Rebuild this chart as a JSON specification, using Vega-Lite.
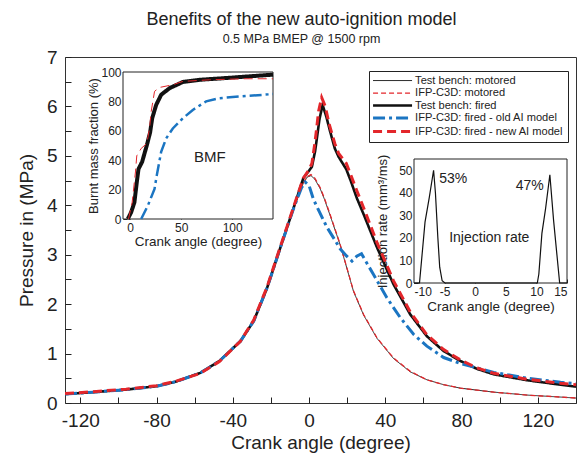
{
  "$schema": "https://vega.github.io/schema/vega-lite/v6.json",
  "width": 511,
  "height": 346,
  "autosize": {"type": "none"},
  "padding": {"left": 65, "top": 57, "right": 4, "bottom": 61},
  "background": "white",
  "title": {
    "text": "Benefits of the new auto-ignition model",
    "subtitle": "0.5 MPa BMEP @ 1500 rpm",
    "anchor": "middle",
    "dx": -19,
    "offset": 3,
    "fontSize": 18,
    "fontWeight": "normal",
    "font": "Liberation Sans",
    "color": "#222",
    "subtitleFont": "Liberation Sans",
    "subtitleFontSize": 12.5,
    "subtitleColor": "#222",
    "subtitlePadding": 4
  },
  "config": {
    "view": {"stroke": "#333", "strokeWidth": 1},
    "axis": {
      "labelFont": "Liberation Sans",
      "titleFont": "Liberation Sans",
      "labelColor": "#222",
      "titleColor": "#222",
      "titleFontWeight": "normal",
      "grid": false,
      "domain": false,
      "tickColor": "#222"
    }
  },
  "datasets": {
    "main": [
      {"s": "Test bench: motored", "x": -128, "y": 0.18}, {"s": "Test bench: motored", "x": -113, "y": 0.22}, {"s": "Test bench: motored", "x": -96, "y": 0.27}, {"s": "Test bench: motored", "x": -80, "y": 0.34}, {"s": "Test bench: motored", "x": -70, "y": 0.43}, {"s": "Test bench: motored", "x": -57, "y": 0.61}, {"s": "Test bench: motored", "x": -47, "y": 0.85}, {"s": "Test bench: motored", "x": -36, "y": 1.25}, {"s": "Test bench: motored", "x": -29, "y": 1.66}, {"s": "Test bench: motored", "x": -22, "y": 2.33}, {"s": "Test bench: motored", "x": -15, "y": 3.15}, {"s": "Test bench: motored", "x": -8, "y": 3.96}, {"s": "Test bench: motored", "x": -3, "y": 4.45}, {"s": "Test bench: motored", "x": -1, "y": 4.57}, {"s": "Test bench: motored", "x": 1, "y": 4.6}, {"s": "Test bench: motored", "x": 3, "y": 4.53}, {"s": "Test bench: motored", "x": 5.8, "y": 4.34}, {"s": "Test bench: motored", "x": 8, "y": 4.13}, {"s": "Test bench: motored", "x": 11, "y": 3.8}, {"s": "Test bench: motored", "x": 16.3, "y": 3.2}, {"s": "Test bench: motored", "x": 19.8, "y": 2.73}, {"s": "Test bench: motored", "x": 23.3, "y": 2.26}, {"s": "Test bench: motored", "x": 28.6, "y": 1.78}, {"s": "Test bench: motored", "x": 35.6, "y": 1.31}, {"s": "Test bench: motored", "x": 44.3, "y": 0.9}, {"s": "Test bench: motored", "x": 53.1, "y": 0.63}, {"s": "Test bench: motored", "x": 61.8, "y": 0.47}, {"s": "Test bench: motored", "x": 70.6, "y": 0.37}, {"s": "Test bench: motored", "x": 79.4, "y": 0.3}, {"s": "Test bench: motored", "x": 96.9, "y": 0.22}, {"s": "Test bench: motored", "x": 114.4, "y": 0.16}, {"s": "Test bench: motored", "x": 131.9, "y": 0.12}, {"s": "Test bench: motored", "x": 140, "y": 0.1},
      {"s": "IFP-C3D: motored", "x": -128, "y": 0.18}, {"s": "IFP-C3D: motored", "x": -113, "y": 0.22}, {"s": "IFP-C3D: motored", "x": -96, "y": 0.27}, {"s": "IFP-C3D: motored", "x": -80, "y": 0.34}, {"s": "IFP-C3D: motored", "x": -70, "y": 0.43}, {"s": "IFP-C3D: motored", "x": -57, "y": 0.61}, {"s": "IFP-C3D: motored", "x": -47, "y": 0.85}, {"s": "IFP-C3D: motored", "x": -36, "y": 1.25}, {"s": "IFP-C3D: motored", "x": -29, "y": 1.66}, {"s": "IFP-C3D: motored", "x": -22, "y": 2.33}, {"s": "IFP-C3D: motored", "x": -15, "y": 3.15}, {"s": "IFP-C3D: motored", "x": -8, "y": 3.96}, {"s": "IFP-C3D: motored", "x": -3, "y": 4.45}, {"s": "IFP-C3D: motored", "x": -1, "y": 4.58}, {"s": "IFP-C3D: motored", "x": 1, "y": 4.62}, {"s": "IFP-C3D: motored", "x": 3, "y": 4.55}, {"s": "IFP-C3D: motored", "x": 5.8, "y": 4.36}, {"s": "IFP-C3D: motored", "x": 8, "y": 4.15}, {"s": "IFP-C3D: motored", "x": 11, "y": 3.82}, {"s": "IFP-C3D: motored", "x": 16.3, "y": 3.21}, {"s": "IFP-C3D: motored", "x": 19.8, "y": 2.74}, {"s": "IFP-C3D: motored", "x": 23.3, "y": 2.27}, {"s": "IFP-C3D: motored", "x": 28.6, "y": 1.79}, {"s": "IFP-C3D: motored", "x": 35.6, "y": 1.32}, {"s": "IFP-C3D: motored", "x": 44.3, "y": 0.91}, {"s": "IFP-C3D: motored", "x": 53.1, "y": 0.64}, {"s": "IFP-C3D: motored", "x": 61.8, "y": 0.47}, {"s": "IFP-C3D: motored", "x": 70.6, "y": 0.37}, {"s": "IFP-C3D: motored", "x": 79.4, "y": 0.3}, {"s": "IFP-C3D: motored", "x": 96.9, "y": 0.22}, {"s": "IFP-C3D: motored", "x": 114.4, "y": 0.16}, {"s": "IFP-C3D: motored", "x": 131.9, "y": 0.12}, {"s": "IFP-C3D: motored", "x": 140, "y": 0.1},
      {"s": "Test bench: fired", "x": -128, "y": 0.18}, {"s": "Test bench: fired", "x": -113, "y": 0.22}, {"s": "Test bench: fired", "x": -96, "y": 0.27}, {"s": "Test bench: fired", "x": -80, "y": 0.34}, {"s": "Test bench: fired", "x": -70, "y": 0.43}, {"s": "Test bench: fired", "x": -57, "y": 0.61}, {"s": "Test bench: fired", "x": -47, "y": 0.85}, {"s": "Test bench: fired", "x": -36, "y": 1.25}, {"s": "Test bench: fired", "x": -29, "y": 1.66}, {"s": "Test bench: fired", "x": -22, "y": 2.33}, {"s": "Test bench: fired", "x": -15, "y": 3.15}, {"s": "Test bench: fired", "x": -8, "y": 3.96}, {"s": "Test bench: fired", "x": -3, "y": 4.55}, {"s": "Test bench: fired", "x": 0, "y": 4.7}, {"s": "Test bench: fired", "x": 1.5, "y": 4.78}, {"s": "Test bench: fired", "x": 3.2, "y": 5.1}, {"s": "Test bench: fired", "x": 5.5, "y": 5.75}, {"s": "Test bench: fired", "x": 7.1, "y": 6.03}, {"s": "Test bench: fired", "x": 9, "y": 5.8}, {"s": "Test bench: fired", "x": 11, "y": 5.5}, {"s": "Test bench: fired", "x": 13.5, "y": 5.15}, {"s": "Test bench: fired", "x": 15.5, "y": 4.98}, {"s": "Test bench: fired", "x": 19.5, "y": 4.73}, {"s": "Test bench: fired", "x": 22, "y": 4.48}, {"s": "Test bench: fired", "x": 25, "y": 4.15}, {"s": "Test bench: fired", "x": 28.6, "y": 3.82}, {"s": "Test bench: fired", "x": 35.6, "y": 3.15}, {"s": "Test bench: fired", "x": 44.3, "y": 2.4}, {"s": "Test bench: fired", "x": 53.1, "y": 1.79}, {"s": "Test bench: fired", "x": 61.8, "y": 1.35}, {"s": "Test bench: fired", "x": 70.6, "y": 1.05}, {"s": "Test bench: fired", "x": 79.4, "y": 0.85}, {"s": "Test bench: fired", "x": 88.1, "y": 0.69}, {"s": "Test bench: fired", "x": 96.9, "y": 0.58}, {"s": "Test bench: fired", "x": 114.4, "y": 0.46}, {"s": "Test bench: fired", "x": 131.9, "y": 0.37}, {"s": "Test bench: fired", "x": 140, "y": 0.33},
      {"s": "IFP-C3D: fired - old AI model", "x": -128, "y": 0.18}, {"s": "IFP-C3D: fired - old AI model", "x": -113, "y": 0.22}, {"s": "IFP-C3D: fired - old AI model", "x": -96, "y": 0.27}, {"s": "IFP-C3D: fired - old AI model", "x": -80, "y": 0.34}, {"s": "IFP-C3D: fired - old AI model", "x": -70, "y": 0.43}, {"s": "IFP-C3D: fired - old AI model", "x": -57, "y": 0.61}, {"s": "IFP-C3D: fired - old AI model", "x": -47, "y": 0.85}, {"s": "IFP-C3D: fired - old AI model", "x": -36, "y": 1.25}, {"s": "IFP-C3D: fired - old AI model", "x": -29, "y": 1.66}, {"s": "IFP-C3D: fired - old AI model", "x": -22, "y": 2.33}, {"s": "IFP-C3D: fired - old AI model", "x": -15, "y": 3.15}, {"s": "IFP-C3D: fired - old AI model", "x": -8, "y": 3.95}, {"s": "IFP-C3D: fired - old AI model", "x": -4, "y": 4.35}, {"s": "IFP-C3D: fired - old AI model", "x": -2, "y": 4.47}, {"s": "IFP-C3D: fired - old AI model", "x": 0, "y": 4.4}, {"s": "IFP-C3D: fired - old AI model", "x": 2.3, "y": 4.12}, {"s": "IFP-C3D: fired - old AI model", "x": 5.5, "y": 3.86}, {"s": "IFP-C3D: fired - old AI model", "x": 9.3, "y": 3.56}, {"s": "IFP-C3D: fired - old AI model", "x": 13, "y": 3.33}, {"s": "IFP-C3D: fired - old AI model", "x": 16.3, "y": 3.12}, {"s": "IFP-C3D: fired - old AI model", "x": 19.5, "y": 2.98}, {"s": "IFP-C3D: fired - old AI model", "x": 22.5, "y": 2.87}, {"s": "IFP-C3D: fired - old AI model", "x": 25, "y": 2.97}, {"s": "IFP-C3D: fired - old AI model", "x": 27.5, "y": 3.02}, {"s": "IFP-C3D: fired - old AI model", "x": 30, "y": 2.85}, {"s": "IFP-C3D: fired - old AI model", "x": 33.8, "y": 2.6}, {"s": "IFP-C3D: fired - old AI model", "x": 40.8, "y": 2.13}, {"s": "IFP-C3D: fired - old AI model", "x": 47.8, "y": 1.73}, {"s": "IFP-C3D: fired - old AI model", "x": 54.8, "y": 1.39}, {"s": "IFP-C3D: fired - old AI model", "x": 61.8, "y": 1.15}, {"s": "IFP-C3D: fired - old AI model", "x": 70.6, "y": 0.92}, {"s": "IFP-C3D: fired - old AI model", "x": 79.4, "y": 0.8}, {"s": "IFP-C3D: fired - old AI model", "x": 88.1, "y": 0.71}, {"s": "IFP-C3D: fired - old AI model", "x": 96.9, "y": 0.62}, {"s": "IFP-C3D: fired - old AI model", "x": 114.4, "y": 0.5}, {"s": "IFP-C3D: fired - old AI model", "x": 131.9, "y": 0.42}, {"s": "IFP-C3D: fired - old AI model", "x": 140, "y": 0.39},
      {"s": "IFP-C3D: fired - new AI model", "x": -128, "y": 0.19}, {"s": "IFP-C3D: fired - new AI model", "x": -113, "y": 0.23}, {"s": "IFP-C3D: fired - new AI model", "x": -96, "y": 0.28}, {"s": "IFP-C3D: fired - new AI model", "x": -80, "y": 0.35}, {"s": "IFP-C3D: fired - new AI model", "x": -70, "y": 0.44}, {"s": "IFP-C3D: fired - new AI model", "x": -57, "y": 0.6}, {"s": "IFP-C3D: fired - new AI model", "x": -47, "y": 0.84}, {"s": "IFP-C3D: fired - new AI model", "x": -36, "y": 1.25}, {"s": "IFP-C3D: fired - new AI model", "x": -29, "y": 1.68}, {"s": "IFP-C3D: fired - new AI model", "x": -22, "y": 2.35}, {"s": "IFP-C3D: fired - new AI model", "x": -15, "y": 3.17}, {"s": "IFP-C3D: fired - new AI model", "x": -8, "y": 3.98}, {"s": "IFP-C3D: fired - new AI model", "x": -3, "y": 4.55}, {"s": "IFP-C3D: fired - new AI model", "x": 0, "y": 4.72}, {"s": "IFP-C3D: fired - new AI model", "x": 1.5, "y": 4.85}, {"s": "IFP-C3D: fired - new AI model", "x": 3.2, "y": 5.3}, {"s": "IFP-C3D: fired - new AI model", "x": 5, "y": 5.9}, {"s": "IFP-C3D: fired - new AI model", "x": 6.6, "y": 6.18}, {"s": "IFP-C3D: fired - new AI model", "x": 8.5, "y": 6.0}, {"s": "IFP-C3D: fired - new AI model", "x": 10.5, "y": 5.65}, {"s": "IFP-C3D: fired - new AI model", "x": 13.5, "y": 5.25}, {"s": "IFP-C3D: fired - new AI model", "x": 15.5, "y": 5.05}, {"s": "IFP-C3D: fired - new AI model", "x": 19.5, "y": 4.85}, {"s": "IFP-C3D: fired - new AI model", "x": 22, "y": 4.6}, {"s": "IFP-C3D: fired - new AI model", "x": 25, "y": 4.3}, {"s": "IFP-C3D: fired - new AI model", "x": 28.6, "y": 3.95}, {"s": "IFP-C3D: fired - new AI model", "x": 35.6, "y": 3.25}, {"s": "IFP-C3D: fired - new AI model", "x": 44.3, "y": 2.47}, {"s": "IFP-C3D: fired - new AI model", "x": 53.1, "y": 1.84}, {"s": "IFP-C3D: fired - new AI model", "x": 61.8, "y": 1.38}, {"s": "IFP-C3D: fired - new AI model", "x": 70.6, "y": 1.08}, {"s": "IFP-C3D: fired - new AI model", "x": 79.4, "y": 0.87}, {"s": "IFP-C3D: fired - new AI model", "x": 88.1, "y": 0.71}, {"s": "IFP-C3D: fired - new AI model", "x": 96.9, "y": 0.6}, {"s": "IFP-C3D: fired - new AI model", "x": 114.4, "y": 0.48}, {"s": "IFP-C3D: fired - new AI model", "x": 131.9, "y": 0.4}, {"s": "IFP-C3D: fired - new AI model", "x": 140, "y": 0.37}
    ],
    "bmf": [
      {"s": "Test bench: fired", "x": -2.3, "y": 0}, {"s": "Test bench: fired", "x": 1, "y": 4.6}, {"s": "Test bench: fired", "x": 4.2, "y": 11.4}, {"s": "Test bench: fired", "x": 6.5, "y": 25}, {"s": "Test bench: fired", "x": 8.2, "y": 34}, {"s": "Test bench: fired", "x": 11.8, "y": 39}, {"s": "Test bench: fired", "x": 16.3, "y": 50}, {"s": "Test bench: fired", "x": 19.6, "y": 59}, {"s": "Test bench: fired", "x": 21.6, "y": 68.5}, {"s": "Test bench: fired", "x": 25.5, "y": 77.6}, {"s": "Test bench: fired", "x": 30.4, "y": 84.5}, {"s": "Test bench: fired", "x": 38.6, "y": 89}, {"s": "Test bench: fired", "x": 51.6, "y": 93.2}, {"s": "Test bench: fired", "x": 68, "y": 94.7}, {"s": "Test bench: fired", "x": 94, "y": 95.9}, {"s": "Test bench: fired", "x": 140, "y": 98.2},
      {"s": "IFP-C3D: fired - old AI model", "x": 10.8, "y": 0}, {"s": "IFP-C3D: fired - old AI model", "x": 17.3, "y": 9}, {"s": "IFP-C3D: fired - old AI model", "x": 23.9, "y": 20.5}, {"s": "IFP-C3D: fired - old AI model", "x": 26.1, "y": 29.7}, {"s": "IFP-C3D: fired - old AI model", "x": 30.4, "y": 45.7}, {"s": "IFP-C3D: fired - old AI model", "x": 35.3, "y": 54.8}, {"s": "IFP-C3D: fired - old AI model", "x": 41.8, "y": 61.6}, {"s": "IFP-C3D: fired - old AI model", "x": 51.6, "y": 68.5}, {"s": "IFP-C3D: fired - old AI model", "x": 61.4, "y": 74.2}, {"s": "IFP-C3D: fired - old AI model", "x": 74.5, "y": 80}, {"s": "IFP-C3D: fired - old AI model", "x": 87.6, "y": 82.2}, {"s": "IFP-C3D: fired - old AI model", "x": 107, "y": 83.3}, {"s": "IFP-C3D: fired - old AI model", "x": 140, "y": 85},
      {"s": "IFP-C3D: fired - new AI model", "x": -1.6, "y": 0}, {"s": "IFP-C3D: fired - new AI model", "x": 2, "y": 11.4}, {"s": "IFP-C3D: fired - new AI model", "x": 5.2, "y": 32}, {"s": "IFP-C3D: fired - new AI model", "x": 6.5, "y": 43}, {"s": "IFP-C3D: fired - new AI model", "x": 10.8, "y": 48}, {"s": "IFP-C3D: fired - new AI model", "x": 16.3, "y": 51.4}, {"s": "IFP-C3D: fired - new AI model", "x": 19, "y": 61.6}, {"s": "IFP-C3D: fired - new AI model", "x": 20.6, "y": 73}, {"s": "IFP-C3D: fired - new AI model", "x": 23.9, "y": 86.8}, {"s": "IFP-C3D: fired - new AI model", "x": 28.8, "y": 89.5}, {"s": "IFP-C3D: fired - new AI model", "x": 41.8, "y": 91.3}, {"s": "IFP-C3D: fired - new AI model", "x": 51.6, "y": 93.6}, {"s": "IFP-C3D: fired - new AI model", "x": 77.8, "y": 94.7}, {"s": "IFP-C3D: fired - new AI model", "x": 110.5, "y": 95.4}, {"s": "IFP-C3D: fired - new AI model", "x": 140, "y": 95.4}
    ],
    "inj": [
      {"x": -10, "y": 0}, {"x": -9.1, "y": 0}, {"x": -8.6, "y": 15}, {"x": -8.2, "y": 27}, {"x": -7.5, "y": 38}, {"x": -6.8, "y": 50}, {"x": -6.5, "y": 40}, {"x": -6.1, "y": 20}, {"x": -5.8, "y": 7}, {"x": -5.4, "y": 1}, {"x": -4.95, "y": 0},
      {"x": 10.15, "y": 0}, {"x": 10.4, "y": 4}, {"x": 10.9, "y": 22}, {"x": 11.5, "y": 33}, {"x": 12.2, "y": 48}, {"x": 12.8, "y": 28}, {"x": 13.8, "y": 0}, {"x": 15, "y": 0}
    ],
    "injnotes": [
      {"x": -3.6, "y": 46, "t": "53%"},
      {"x": 8.9, "y": 43, "t": "47%"},
      {"x": 2.3, "y": 20, "t": "Injection rate"}
    ],
    "one": [{"n": 1}]
  },
  "layer": [
    {
      "data": {"name": "main"},
      "mark": {"type": "line", "clip": true},
      "encoding": {
        "x": {
          "field": "x", "type": "quantitative",
          "scale": {"domain": [-128, 140], "nice": false, "zero": false},
          "axis": {
            "orient": "bottom", "offset": -6, "tickSize": 6,
            "title": "Crank angle (degree)",
            "values": [-120, -100, -80, -60, -40, -20, 0, 20, 40, 60, 80, 100, 120, 140],
            "labelExpr": "datum.value % 40 == 0 ? '' + datum.value : ''",
            "labelFontSize": 19, "titleFontSize": 19, "labelPadding": 8, "titlePadding": 3
          }
        },
        "y": {
          "field": "y", "type": "quantitative",
          "scale": {"domain": [0, 7], "nice": false},
          "axis": {
            "orient": "left", "offset": -6, "tickSize": 6,
            "title": "Pressure in (MPa)",
            "values": [0, 0.5, 1, 1.5, 2, 2.5, 3, 3.5, 4, 4.5, 5, 5.5, 6, 6.5, 7],
            "labelExpr": "datum.value % 1 == 0 ? '' + datum.value : ''",
            "labelFontSize": 19, "titleFontSize": 19, "labelPadding": 8, "titlePadding": 10
          }
        },
        "color": {
          "field": "s", "type": "nominal",
          "scale": {
            "domain": ["Test bench: motored", "IFP-C3D: motored", "Test bench: fired", "IFP-C3D: fired - old AI model", "IFP-C3D: fired - new AI model"],
            "range": ["#222222", "#e3262b", "#111111", "#1b75c2", "#e3262b"]
          },
          "legend": {
            "orient": "none", "legendX": 304, "legendY": 14, "title": null,
            "symbolType": "M-3,0H3", "symbolSize": 169, "symbolOffset": 14,
            "fillColor": "white", "strokeColor": "#222", "padding": 4,
            "labelFont": "Liberation Sans", "labelFontSize": 11.1, "labelColor": "#222",
            "rowPadding": 0.5, "labelOffset": 17,
            "encode": {"symbols": {"update": {"strokeWidth": {"signal": "datum.value == 'Test bench: motored' ? 1 : datum.value == 'IFP-C3D: motored' ? 1.3 : datum.value == 'Test bench: fired' ? 2.6 : 3"}}}}
          }
        },
        "strokeDash": {
          "field": "s", "type": "nominal",
          "scale": {
            "domain": ["Test bench: motored", "IFP-C3D: motored", "Test bench: fired", "IFP-C3D: fired - old AI model", "IFP-C3D: fired - new AI model"],
            "range": [[1, 0], [5, 3], [1, 0], [12, 4, 3, 4], [9, 5]]
          }
        },
        "strokeWidth": {
          "field": "s", "type": "nominal",
          "legend": null,
          "scale": {
            "type": "ordinal",
            "domain": ["Test bench: motored", "IFP-C3D: motored", "Test bench: fired", "IFP-C3D: fired - old AI model", "IFP-C3D: fired - new AI model"],
            "range": [1, 1.3, 2.6, 3, 3]
          }
        }
      }
    },
    {
      "data": {"name": "one"},
      "mark": {"type": "rect", "fill": "white", "stroke": "#222", "strokeWidth": 1},
      "encoding": {
        "x": {"datum": -7, "type": "quantitative", "scale": {"domain": [-7, 140], "range": [58, 208], "nice": false, "zero": false}, "axis": null},
        "x2": {"datum": 140},
        "y": {"datum": 0, "type": "quantitative", "scale": {"domain": [0, 100], "range": [162, 15], "nice": false}, "axis": null},
        "y2": {"datum": 100}
      }
    },
    {
      "data": {"name": "bmf"},
      "mark": {"type": "line"},
      "encoding": {
        "x": {
          "field": "x", "type": "quantitative",
          "scale": {"domain": [-7, 140], "range": [58, 208], "nice": false, "zero": false},
          "axis": {"orient": "bottom", "offset": -188, "tickSize": 4, "title": "Crank angle (degree)", "values": [0, 50, 100], "labelFontSize": 12, "titleFontSize": 13.5, "labelPadding": 3, "titlePadding": 1}
        },
        "y": {
          "field": "y", "type": "quantitative",
          "scale": {"domain": [0, 100], "range": [162, 15], "nice": false},
          "axis": {"orient": "left", "offset": -62, "tickSize": 4, "title": "Burnt mass fraction (%)", "values": [0, 10, 20, 30, 40, 50, 60, 70, 80, 90, 100], "labelExpr": "datum.value % 20 == 0 ? '' + datum.value : ''", "labelFontSize": 12, "titleFontSize": 13, "labelPadding": 2, "titlePadding": 0}
        },
        "color": {"field": "s", "type": "nominal"},
        "strokeDash": {"field": "s", "type": "nominal"},
        "strokeWidth": {"field": "s", "type": "nominal", "legend": null}
      }
    },
    {
      "data": {"name": "one"},
      "mark": {"type": "text", "text": "BMF", "font": "Liberation Sans", "fontSize": 15, "color": "#222", "align": "center", "baseline": "middle"},
      "encoding": {
        "x": {"datum": 78, "type": "quantitative", "scale": {"domain": [-7, 140], "range": [58, 208], "nice": false, "zero": false}, "axis": null},
        "y": {"datum": 42, "type": "quantitative", "scale": {"domain": [0, 100], "range": [162, 15], "nice": false}, "axis": null}
      }
    },
    {
      "data": {"name": "one"},
      "mark": {"type": "rect", "fill": "white", "stroke": "#222", "strokeWidth": 1},
      "encoding": {
        "x": {"datum": -10, "type": "quantitative", "scale": {"domain": [-10, 15], "range": [349, 502], "nice": false, "zero": false}, "axis": null},
        "x2": {"datum": 15},
        "y": {"datum": 0, "type": "quantitative", "scale": {"domain": [0, 55], "range": [226, 102], "nice": false}, "axis": null},
        "y2": {"datum": 55}
      }
    },
    {
      "data": {"name": "inj"},
      "mark": {"type": "line", "color": "#111", "strokeWidth": 1.2},
      "encoding": {
        "x": {
          "field": "x", "type": "quantitative",
          "scale": {"domain": [-10, 15], "range": [349, 502], "nice": false, "zero": false},
          "axis": {"orient": "bottom", "offset": -124, "tickSize": 4, "title": "Crank angle (degree)", "values": [-10, -5, 0, 5, 10, 15], "labelExpr": "'' + datum.value", "labelFontSize": 12, "titleFontSize": 13.5, "labelPadding": 3, "titlePadding": 2}
        },
        "y": {
          "field": "y", "type": "quantitative",
          "scale": {"domain": [0, 55], "range": [226, 102], "nice": false},
          "axis": {"orient": "left", "offset": -353, "tickSize": 4, "title": "Injection rate (mm³/ms)", "values": [0, 5, 10, 15, 20, 25, 30, 35, 40, 45, 50], "labelExpr": "datum.value % 10 == 0 ? '' + datum.value : ''", "labelFontSize": 12, "titleFontSize": 13, "labelPadding": 2, "titlePadding": 9}
        }
      }
    },
    {
      "data": {"name": "injnotes"},
      "mark": {"type": "text", "font": "Liberation Sans", "fontSize": 14, "color": "#222", "align": "center", "baseline": "middle"},
      "encoding": {
        "x": {"field": "x", "type": "quantitative", "scale": {"domain": [-10, 15], "range": [349, 502], "nice": false, "zero": false}, "axis": null},
        "y": {"field": "y", "type": "quantitative", "scale": {"domain": [0, 55], "range": [226, 102], "nice": false}, "axis": null},
        "text": {"field": "t"}
      }
    }
  ],
  "resolve": {"scale": {"x": "independent", "y": "independent"}}
}
